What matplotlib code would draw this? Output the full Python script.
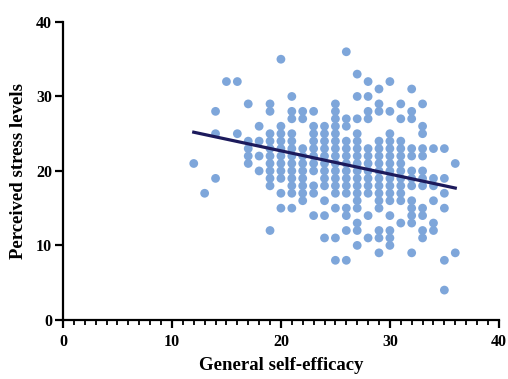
import matplotlib
matplotlib.use("Agg")
import matplotlib.pyplot as plt
from matplotlib.ticker import MultipleLocator

# General self-efficacy score -> list of perceived stress scores at that score
stress_by_efficacy = {
    12: [21],
    13: [17],
    14: [28, 25, 19],
    15: [32],
    16: [32, 25],
    17: [29, 24, 23, 22, 21],
    18: [26, 24, 22, 20],
    19: [29, 28, 25, 24, 23, 22, 21, 20, 19, 18, 12],
    20: [35, 26, 25, 24, 23, 22, 21, 20, 19, 17, 15],
    21: [30, 28, 27, 25, 24, 23, 22, 21, 20, 19, 18, 17, 15],
    22: [28, 27, 23, 22, 21, 20, 19, 18, 17, 16],
    23: [28, 26, 25, 24, 23, 22, 21, 20, 18, 17, 14],
    24: [26, 25, 24, 23, 22, 21, 20, 19, 18, 16, 14, 11],
    25: [29, 28, 27, 26, 25, 24, 23, 22, 21, 20, 19, 18, 17, 15, 11, 8],
    26: [36, 27, 26, 24, 23, 22, 21, 20, 19, 18, 17, 15, 14, 12, 8],
    27: [33, 30, 27, 25, 24, 23, 22, 21, 20, 19, 18, 17, 16, 15, 13, 12, 10],
    28: [32, 30, 28, 27, 23, 22, 21, 20, 19, 18, 17, 14, 11],
    29: [31, 29, 28, 24, 23, 22, 21, 20, 19, 18, 17, 16, 15, 12, 11, 9],
    30: [32, 28, 25, 24, 23, 22, 21, 20, 19, 18, 17, 16, 14, 12, 11, 10],
    31: [29, 27, 24, 23, 22, 21, 20, 19, 18, 17, 16, 13],
    32: [31, 28, 27, 23, 22, 20, 19, 18, 16, 15, 14, 13, 9],
    33: [29, 26, 25, 23, 22, 20, 19, 18, 15, 14, 12, 11],
    34: [23, 19, 18, 16, 13, 12],
    35: [23, 19, 17, 15, 8, 4],
    36: [21, 9],
}

# regression line end points
fit_x = [12, 36]
fit_y = [25.2, 17.7]

efficacy = []
stress = []
for k, vals in stress_by_efficacy.items():
    efficacy += [k] * len(vals)
    stress += vals

plt.rcParams["font.family"] = ["Liberation Serif", "DejaVu Serif"]
plt.rcParams["font.weight"] = "bold"

fig = plt.figure(figsize=(5.08, 3.79), dpi=100)
ax = fig.add_axes([0.124, 0.156, 0.858, 0.786])

ax.scatter(efficacy, stress, s=40, color="#7ea6da", edgecolors="none",
           zorder=2, clip_on=False)
ax.plot(fit_x, fit_y, color="#1c1a5c", linewidth=2.3, zorder=3)

ax.set_xlim(0, 40)
ax.set_ylim(0, 40)
ax.xaxis.set_major_locator(MultipleLocator(10))
ax.xaxis.set_minor_locator(MultipleLocator(1))
ax.yaxis.set_major_locator(MultipleLocator(10))

for side in ["top", "right"]:
    ax.spines[side].set_visible(False)
for side in ["left", "bottom"]:
    ax.spines[side].set_linewidth(1.6)

ax.tick_params(axis="both", which="major", length=6, width=1.6,
               labelsize=11.5, pad=2)
ax.tick_params(axis="x", which="major", pad=4)
ax.tick_params(axis="x", which="minor", length=3.5, width=1.3)

for lbl in ax.get_xticklabels() + ax.get_yticklabels():
    lbl.set_fontweight("bold")

ax.set_xlabel("General self-efficacy", fontsize=13.5, fontweight="bold",
              labelpad=5)
ax.set_ylabel("Perceived stress levels", fontsize=13.5, fontweight="bold",
              labelpad=6)

fig.savefig("out.png", dpi=100)
